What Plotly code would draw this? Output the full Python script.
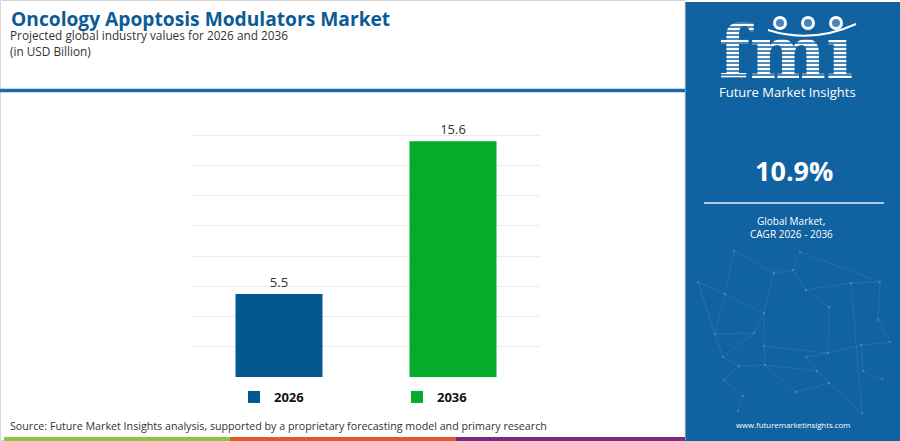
import plotly.graph_objects as go

# ---- data ----
years = ["2026", "2036"]
values = [5.5, 15.6]
bar_colors = ["#03588f", "#05ab2b"]
cagr_text = "10.9%"

title = "Oncology Apoptosis Modulators Market"
subtitle = "Projected global industry values for 2026 and 2036"
unit = "(in USD Billion)"
source = "Source: Future Market Insights analysis, supported by a proprietary forecasting model and primary research"
logo_text = "fm\u0131"
brand = "Future Market Insights"
cagr_label = ["Global Market,", "CAGR 2026 - 2036"]
website = "www.futuremarketinsights.com"

W, H = 900, 441
PANEL = "#1062a1"
FONT = "Open Sans"


def px(x):
    return x / W


def py(y):
    return 1 - y / H


fig = go.Figure()
for yr, v, c in zip(years, values, bar_colors):
    fig.add_trace(go.Bar(
        x=[yr], y=[v], name=yr, marker=dict(color=c, line=dict(width=0)),
        width=0.5, text=[f"{v}"], textposition="outside",
        textfont=dict(family=FONT, size=13, color="#333333"),
        cliponaxis=False, hoverinfo="skip",
    ))

# logo word on an overlay pixel axis so the stripes can be drawn over it
fig.add_trace(go.Scatter(
    x=[786], y=[60], mode="text", text=[f"<b>{logo_text}</b>"], xaxis="x2", yaxis="y2",
    textfont=dict(family="DejaVu Serif", size=72, color="white"), showlegend=False,
    hoverinfo="skip", cliponaxis=False,
))

shapes = []
# right panel
shapes.append(dict(type="rect", xref="paper", yref="paper", x0=px(685), x1=1, y0=0, y1=py(2),
                   line=dict(width=0), fillcolor=PANEL, layer="below"))
# decorative network pattern in the panel
nodes = {
    "A": (734, 251), "B": (800, 252), "C": (698, 282), "D": (725, 294), "E": (774, 273),
    "F": (793, 270), "G": (806, 290), "H": (851, 283), "I": (880, 282), "J": (764, 313),
    "K": (829, 307), "L": (715, 334), "M": (754, 333), "N": (878, 320), "O": (764, 346),
    "P": (828, 353), "Q": (861, 345), "R": (890, 342), "S": (723, 357), "T": (739, 366),
    "U": (765, 365), "V": (806, 357), "W": (817, 371), "X": (724, 380), "Y": (743, 396),
    "Z": (829, 383), "a": (796, 392), "b": (738, 411), "c": (862, 413), "d": (863, 371),
    "e": (882, 379),
}
edges = ["AD", "AE", "BF", "BI", "EF", "EJ", "CD", "DL", "DJ", "FG", "GK", "GH", "HI", "Hc",
         "IN", "KP", "JM", "ML", "JO", "OP", "OU", "LS", "ST", "TU", "UW", "MS", "PV", "VW",
         "WZ", "Zc", "TX", "XY", "Yb", "Ua", "aZ", "PQ", "QR", "NR", "de", "Qd", "CL"]
for e in edges:
    (xa, ya), (xb, yb) = nodes[e[0]], nodes[e[1]]
    shapes.append(dict(type="line", xref="paper", yref="paper", x0=px(xa), x1=px(xb), y0=py(ya), y1=py(yb),
                       line=dict(color="rgba(170,210,240,0.12)", width=1), layer="below"))
for (nx, ny) in nodes.values():
    shapes.append(dict(type="circle", xref="paper", yref="paper", x0=px(nx - 1.2), x1=px(nx + 1.2),
                       y0=py(ny + 1.2), y1=py(ny - 1.2), line=dict(width=0),
                       fillcolor="rgba(190,225,245,0.22)", layer="below"))
# card border
shapes.append(dict(type="rect", xref="paper", yref="paper", x0=px(0.5), x1=px(685), y0=py(440.5), y1=py(0.5),
                   line=dict(color="#d6d6d6", width=1), fillcolor="rgba(0,0,0,0)", layer="below"))
# title separator
shapes.append(dict(type="line", xref="paper", yref="paper", x0=0, x1=px(685), y0=py(90.5), y1=py(90.5),
                   line=dict(color="#1b6aa8", width=3.5)))
# bottom coloured strip
for x0, x1, col in [(4, 230, "#8cc43f"), (230, 456, "#e8572a"), (456, 685, "#7b2a85")]:
    shapes.append(dict(type="rect", xref="paper", yref="paper", x0=px(x0), x1=px(x1), y0=py(441), y1=py(437),
                       line=dict(width=0), fillcolor=col))
# separator in panel
shapes.append(dict(type="line", xref="paper", yref="paper", x0=px(704), x1=px(884), y0=py(203), y1=py(203),
                   line=dict(color="#a9cbe8", width=2)))

annotations = [
    dict(text=f"<b>{title}</b>", x=px(9), y=py(19), xanchor="left", yanchor="middle",
         font=dict(family=FONT, size=19.2, color="#0b5b96")),
    dict(text=subtitle, x=px(8), y=py(35), xanchor="left", yanchor="middle",
         font=dict(family=FONT, size=11.8, color="#333333")),
    dict(text=unit, x=px(8), y=py(51), xanchor="left", yanchor="middle",
         font=dict(family=FONT, size=11.8, color="#333333")),
    dict(text=source, x=px(8), y=py(426), xanchor="left", yanchor="middle",
         font=dict(family=FONT, size=10.7, color="#333333")),
    dict(text=brand, x=px(787), y=py(92), xanchor="center", yanchor="middle",
         font=dict(family=FONT, size=13, color="white")),
    dict(text=f"<b>{cagr_text}</b>", x=px(794), y=py(170), xanchor="center", yanchor="middle",
         font=dict(family=FONT, size=27, color="white")),
    dict(text=cagr_label[0], x=px(791), y=py(221), xanchor="center", yanchor="middle",
         font=dict(family=FONT, size=10, color="white")),
    dict(text=cagr_label[1], x=px(791), y=py(234), xanchor="center", yanchor="middle",
         font=dict(family=FONT, size=10, color="white")),
    dict(text=website, x=px(793), y=py(425), xanchor="center", yanchor="middle",
         font=dict(family=FONT, size=7.8, color="white")),
]
for a in annotations:
    a.update(xref="paper", yref="paper", showarrow=False)

# logo stripes
for yy in range(23, 78, 4):
    xa, xb = (714, 772) if yy < 33 else (714, 858)
    shapes.append(dict(type="line", xref="paper", yref="paper", x0=px(xa), x1=px(xb), y0=py(yy), y1=py(yy),
                       line=dict(color=PANEL, width=1.3)))
# globes
for gx in (780, 808, 836):
    shapes.append(dict(type="circle", xref="paper", yref="paper", x0=px(gx - 7), x1=px(gx + 7),
                       y0=py(30), y1=py(16), line=dict(width=0), fillcolor="white"))
    shapes.append(dict(type="circle", xref="paper", yref="paper", x0=px(gx - 4), x1=px(gx + 4),
                       y0=py(27), y1=py(19), line=dict(width=0), fillcolor="#4a86bd"))
shapes.append(dict(type="path", xref="paper", yref="paper",
                   path=f"M {px(768)},{py(30)} Q {px(812)},{py(44)} {px(856)},{py(24)}",
                   line=dict(color="white", width=2)))

fig.update_layout(
    width=W, height=H, margin=dict(l=0, r=0, t=0, b=0),
    paper_bgcolor="white", plot_bgcolor="rgba(0,0,0,0)",
    barmode="overlay", showlegend=True,
    xaxis=dict(domain=[px(192), px(540)], showticklabels=False, showgrid=False, zeroline=False,
               type="category", fixedrange=True),
    yaxis=dict(domain=[py(377), py(105)], range=[0, 18], dtick=2, showticklabels=False,
               showgrid=True, gridcolor="#ececec", gridwidth=1, zeroline=False, fixedrange=True),
    xaxis2=dict(domain=[0, 1], range=[0, W], visible=False, fixedrange=True, anchor="y2"),
    yaxis2=dict(domain=[0, 1], range=[H, 0], visible=False, fixedrange=True, anchor="x2"),
    legend=dict(orientation="h", x=px(397), xanchor="center", y=py(397), yanchor="middle",
                entrywidth=118, itemwidth=30, traceorder="normal", bgcolor="rgba(0,0,0,0)",
                font=dict(family=FONT, size=13, color="#111111", weight="bold")),
    shapes=shapes, annotations=annotations,
)

fig.write_html("out.html", config={"displayModeBar": False},
               post_script="document.body.style.margin='0';")
